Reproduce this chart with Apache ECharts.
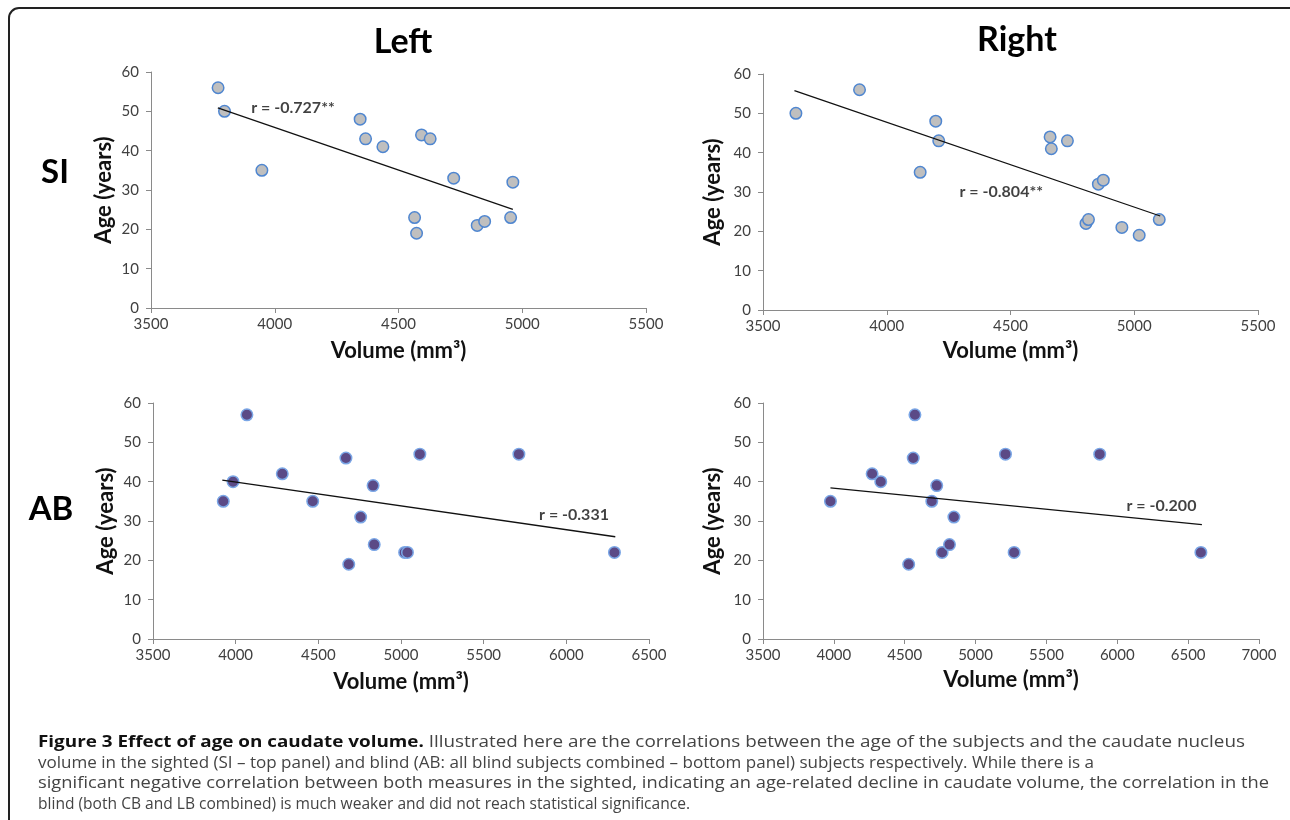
<!DOCTYPE html>
<html>
<head>
<meta charset="utf-8">
<script src="https://cdn.jsdelivr.net/npm/echarts@6/dist/echarts.min.js"></script>
<style>
  html, body { margin: 0; padding: 0; background: #fff; }
  #wrap { position: relative; width: 1290px; height: 820px; overflow: hidden; }
  #chart { position: absolute; left: 0; top: 0; width: 1290px; height: 820px; }
  #frame { position: absolute; left: 8px; top: 7px; width: 1300px; height: 830px;
           border: 2px solid #222; border-radius: 11px; box-sizing: border-box; pointer-events: none; }
  #caption { position: absolute; left: 38px; top: 731px; width: 1250px; font-family: "Open Sans", "Noto Sans", sans-serif;
             font-size: 16.5px; color: #444; }
  #caption .ln { white-space: nowrap; height: 20.6px; line-height: 20.6px; }
  #caption .ln span.t { display: inline-block; transform-origin: 0 50%; }
  #caption b { color: #111; font-weight: 700; }
</style>
</head>
<body>
<div id="wrap">
  <div id="chart"></div>
  <div id="frame"></div>
  <div id="caption">
    <div class="ln"><span class="t" data-w="1207"><b>Figure 3 Effect of age on caudate volume.</b> Illustrated here are the correlations between the age of the subjects and the caudate nucleus</span></div>
    <div class="ln"><span class="t" data-w="1056">volume in the sighted (SI – top panel) and blind (AB: all blind subjects combined – bottom panel) subjects respectively. While there is a</span></div>
    <div class="ln"><span class="t" data-w="1231">significant negative correlation between both measures in the sighted, indicating an age-related decline in caudate volume, the correlation in the</span></div>
    <div class="ln"><span class="t" data-w="652">blind (both CB and LB combined) is much weaker and did not reach statistical significance.</span></div>
  </div>
</div>
<script>
// ---- Data ----
const siLeftVol  = [3771, 3797, 3948, 4345, 4367, 4437, 4565, 4573, 4593, 4628, 4723, 4818, 4848, 4953, 4962];
const siLeftAge  = [56, 50, 35, 48, 43, 41, 23, 19, 44, 43, 33, 21, 22, 23, 32];
const siRightVol = [3633, 3890, 4135, 4198, 4210, 4660, 4665, 4730, 4805, 4815, 4855, 4875, 4950, 5020, 5101];
const siRightAge = [50, 56, 35, 48, 43, 44, 41, 43, 22, 23, 32, 33, 21, 19, 23];
const abLeftVol  = [3925, 3984, 4068, 4282, 4466, 4667, 4684, 4756, 4831, 4838, 5022, 5039, 5114, 5713, 6291];
const abLeftAge  = [35, 40, 57, 42, 35, 46, 19, 31, 39, 24, 22, 22, 47, 47, 22];
const abRightVol = [3976, 4270, 4331, 4528, 4560, 4572, 4691, 4726, 4764, 4816, 4847, 5211, 5272, 5876, 6590];
const abRightAge = [35, 42, 40, 19, 46, 57, 35, 39, 22, 24, 31, 47, 22, 47, 22];

const siLeftTrend  = [[3770, 50.9], [4962, 25.1]];
const siRightTrend = [[3627, 55.8], [5105, 23.9]];
const abLeftTrend  = [[3919, 40.4], [6296, 26.0]];
const abRightTrend = [[3976, 38.4], [6597, 29.1]];

const rLabels    = ["r = -0.727**", "r = -0.804**", "r = -0.331", "r = -0.200"];
const rLabelPos  = [[3905, 50.9], [4294, 30.0], [5835, 31.6], [6065, 33.9]];

const xMax = [5500, 5500, 6500, 7000];
const colTitles = ["Left", "Right"];
const rowTitles = ["SI", "AB"];
const xName = "Volume (mm³)";
const yName = "Age (years)";

// ---- Chart ----
const FONT = "Lato, 'Open Sans', sans-serif";
const grids = [
  { left: 151, right: 644, top: 72, height: 236 },
  { left: 763, right: 32,  top: 74, height: 236 },
  { left: 153, right: 641, top: 403, height: 236 },
  { left: 763, right: 31,  top: 403, height: 236 }
];
const yGaps = [36, 39, 36, 39];
const xGaps = [32, 30, 32, 30];
const axisLineStyle = { color: '#8a8a8a', width: 1 };
const plain = v => String(v);

const xAxes = grids.map((g, i) => ({
  type: 'value', gridIndex: i, min: 3500, max: xMax[i], interval: 500,
  name: xName, nameLocation: 'middle', nameGap: xGaps[i],
  nameTextStyle: { fontFamily: FONT, fontSize: 22, fontWeight: 'bold', color: '#111' },
  axisLine: { show: true, lineStyle: axisLineStyle },
  axisTick: { show: true, length: 5, lineStyle: axisLineStyle },
  axisLabel: { fontFamily: FONT, fontSize: 15, color: '#404040', margin: 9, formatter: plain },
  splitLine: { show: false }
}));
const yAxes = grids.map((g, i) => ({
  type: 'value', gridIndex: i, min: 0, max: 60, interval: 10,
  name: yName, nameLocation: 'middle', nameGap: yGaps[i], nameRotate: 90,
  nameTextStyle: { fontFamily: FONT, fontSize: 22, fontWeight: 'bold', color: '#111' },
  axisLine: { show: true, lineStyle: axisLineStyle },
  axisTick: { show: true, length: 5, lineStyle: axisLineStyle },
  axisLabel: { fontFamily: FONT, fontSize: 15, color: '#404040', margin: 12, formatter: plain },
  splitLine: { show: false }
}));

const vols = [siLeftVol, siRightVol, abLeftVol, abRightVol];
const ages = [siLeftAge, siRightAge, abLeftAge, abRightAge];
const trends = [siLeftTrend, siRightTrend, abLeftTrend, abRightTrend];
const fills = ['#bfbfbf', '#bfbfbf', '#5b4a86', '#5b4a86'];
const borders = ['#4f86d0', '#4f86d0', '#7aa6e6', '#7aa6e6'];

const series = [];
for (let i = 0; i < 4; i++) {
  series.push({
    type: 'line', xAxisIndex: i, yAxisIndex: i, data: trends[i],
    symbol: 'none', silent: true, z: 3,
    lineStyle: { color: '#111', width: 1.3 }
  });
  series.push({
    type: 'scatter', xAxisIndex: i, yAxisIndex: i,
    data: vols[i].map((v, k) => [v, ages[i][k]]),
    symbolSize: 11.5, z: 2,
    itemStyle: { color: fills[i], borderColor: borders[i], borderWidth: 1.5, opacity: 1 }
  });
  series.push({
    type: 'scatter', xAxisIndex: i, yAxisIndex: i, silent: true,
    data: [rLabelPos[i]], symbolSize: 0, z: 4,
    label: { show: true, position: 'right', distance: 0, formatter: rLabels[i],
             fontFamily: FONT, fontSize: 16, fontWeight: 'bold', color: '#111' }
  });
}

const titleStyle = { fontFamily: FONT, fontSize: 34, fontWeight: 'bold', fill: '#000', textAlign: 'center', textVerticalAlign: 'middle' };
const graphic = [
  { type: 'text', x: 403, y: 42, style: Object.assign({ text: colTitles[0] }, titleStyle) },
  { type: 'text', x: 1017, y: 40, style: Object.assign({ text: colTitles[1] }, titleStyle) },
  { type: 'text', x: 55, y: 172, style: Object.assign({ text: rowTitles[0] }, titleStyle, { fontSize: 33 }) },
  { type: 'text', x: 51, y: 509, style: Object.assign({ text: rowTitles[1] }, titleStyle, { fontSize: 33 }) }
];

const chart = echarts.init(document.getElementById('chart'), null, { renderer: 'canvas' });
chart.setOption({
  animation: false,
  backgroundColor: '#fff',
  grid: grids,
  xAxis: xAxes,
  yAxis: yAxes,
  series: series,
  graphic: graphic
});

// Fit caption lines to the measured widths of the reference
function fitCaption() {
  document.querySelectorAll('#caption span.t').forEach(el => {
    el.style.transform = 'none';
    const target = +el.dataset.w;
    const w = el.getBoundingClientRect().width;
    if (w > 0) el.style.transform = 'scaleX(' + (target / w) + ')';
  });
}
fitCaption();
if (document.fonts && document.fonts.ready) document.fonts.ready.then(fitCaption);
</script>
</body>
</html>
